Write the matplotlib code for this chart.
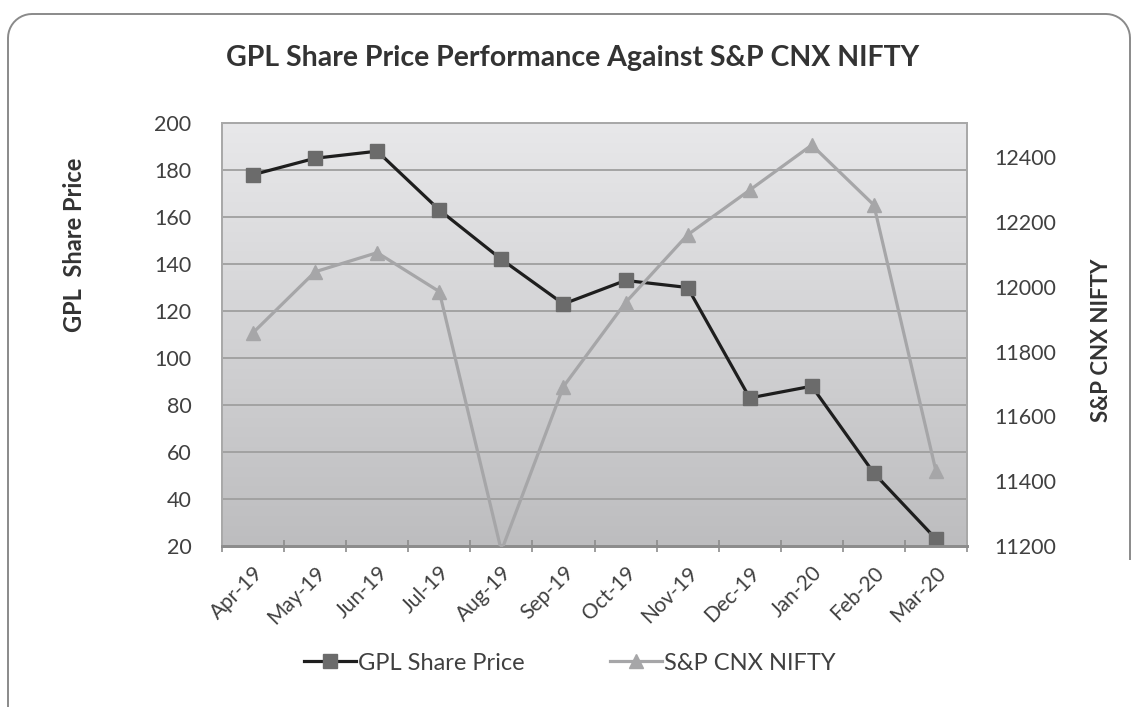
import numpy as np
import matplotlib
matplotlib.use("Agg")
import matplotlib.pyplot as plt
from matplotlib.path import Path
from matplotlib.patches import PathPatch
from matplotlib.transforms import IdentityTransform
from matplotlib.lines import Line2D

months = ["Apr-19", "May-19", "Jun-19", "Jul-19", "Aug-19", "Sep-19",
          "Oct-19", "Nov-19", "Dec-19", "Jan-20", "Feb-20", "Mar-20"]
gpl = [178, 185, 188, 163, 142, 123, 133, 130, 83, 88, 51, 23]
nifty = [11858, 12046, 12105, 11985, 11185, 11692, 11951, 12160, 12298, 12437, 12252, 11431]
left_ticks = list(range(20, 201, 20))
right_ticks = list(range(11200, 12401, 200))

plt.rcParams['font.family'] = ['Lato', 'DejaVu Sans']

W, H = 1136, 707
fig = plt.figure(figsize=(W / 100, H / 100), dpi=100)

def img2disp(x, y):
    return (x, H - y)

r = 24
L, T, R, B = 8, 14, 1130, 560
verts, codes = [], []
verts.append(img2disp(L, H + 5)); codes.append(Path.MOVETO)
verts.append(img2disp(L, T + r)); codes.append(Path.LINETO)
for a in np.linspace(np.pi, 1.5 * np.pi, 12)[1:]:
    verts.append(img2disp(L + r + r * np.cos(a), T + r + r * np.sin(a))); codes.append(Path.LINETO)
verts.append(img2disp(R - r, T)); codes.append(Path.LINETO)
for a in np.linspace(1.5 * np.pi, 2 * np.pi, 12)[1:]:
    verts.append(img2disp(R - r + r * np.cos(a), T + r + r * np.sin(a))); codes.append(Path.LINETO)
verts.append(img2disp(R, B)); codes.append(Path.LINETO)
border = PathPatch(Path(verts, codes), fill=False, edgecolor='#8a8a8a', lw=1.4,
                   transform=IdentityTransform())
fig.add_artist(border)

x0, y0, x1, y1 = 222, 123, 967, 546
ax = fig.add_axes([x0 / W, 1 - y1 / H, (x1 - x0) / W, (y1 - y0) / H])
ax2 = ax.twinx()

grad = np.linspace(0, 1, 256).reshape(-1, 1)
ax.imshow(grad, extent=[0, 1, 0, 1], transform=ax.transAxes, aspect='auto',
          cmap=matplotlib.colors.LinearSegmentedColormap.from_list('g', ['#bdbdbf', '#e8e8ea']),
          origin='lower', zorder=0)

x = np.arange(len(months))
ax.set_xlim(-0.5, len(months) - 0.5)
ax.set_ylim(20, 200)
ax.set_yticks(left_ticks)
ax.grid(axis='y', color='#9f9f9f', lw=1.3, zorder=1)
ax.set_axisbelow(False)
ax.set_xticks(x)
ax.set_xticklabels(months, rotation=45, ha='right', va='top', rotation_mode='anchor',
                   fontsize=15, color='#404040')
ax.set_xticks(np.arange(-0.5, len(months) + 0.5, 1), minor=True)
ax.tick_params(axis='x', which='major', length=0, pad=12)
ax.tick_params(axis='x', which='minor', length=9, direction='inout', color='#8c8c8c', width=1.2)
ax.tick_params(axis='y', length=0, pad=22, labelsize=15.5, labelcolor='#404040')

ax2.set_ylim(11200, 12505)
ax2.set_yticks(right_ticks)
ax2.tick_params(axis='y', length=0, pad=20, labelsize=15.5, labelcolor='#404040')

for a in (ax, ax2):
    for s in a.spines.values():
        s.set_color('#a9a9a9')
        s.set_linewidth(1.3)
    a.spines['bottom'].set_color('#8c8c8c')
    a.spines['bottom'].set_linewidth(2.0)
ax2.patch.set_visible(False)

ax.plot(x, gpl, color='#1e1e1e', lw=2.3, marker='s', ms=9.5,
        markerfacecolor='#6b6b6b', markeredgecolor='#6b6b6b', zorder=3)
ax2.plot(x, nifty, color='#a6a6a8', lw=2.3, marker='^', ms=10.5,
         markerfacecolor='#a6a6a8', markeredgecolor='#a6a6a8', zorder=3)

fig.text(573 / W, 1 - 58 / H, "GPL Share Price Performance Against S&P CNX NIFTY",
         ha='center', va='center', fontsize=20.5, fontweight='bold', color='#333333')
fig.text(75 / W, 1 - 245 / H, "GPL  Share Price", rotation=90, ha='center', va='center',
         fontsize=17, fontweight='bold', color='#333333')
fig.text(1101 / W, 1 - 340 / H, "S&P CNX NIFTY", rotation=90, ha='center', va='center',
         fontsize=16, fontweight='bold', color='#333333')

h1 = Line2D([], [], color='#1e1e1e', lw=2.3, marker='s', ms=9.5,
            markerfacecolor='#6b6b6b', markeredgecolor='#6b6b6b')
h2 = Line2D([], [], color='#a6a6a8', lw=2.3, marker='^', ms=10.5,
            markerfacecolor='#a6a6a8', markeredgecolor='#a6a6a8')
fig.legend([h1, h2], ["GPL Share Price", "S&P CNX NIFTY"], loc='center',
           bbox_to_anchor=(570 / W, 1 - 663 / H), ncol=2, frameon=False,
           fontsize=17, handlelength=2.2, handletextpad=0.1, columnspacing=3.6,
           labelcolor='#404040')

fig.savefig("out.png", dpi=100)
